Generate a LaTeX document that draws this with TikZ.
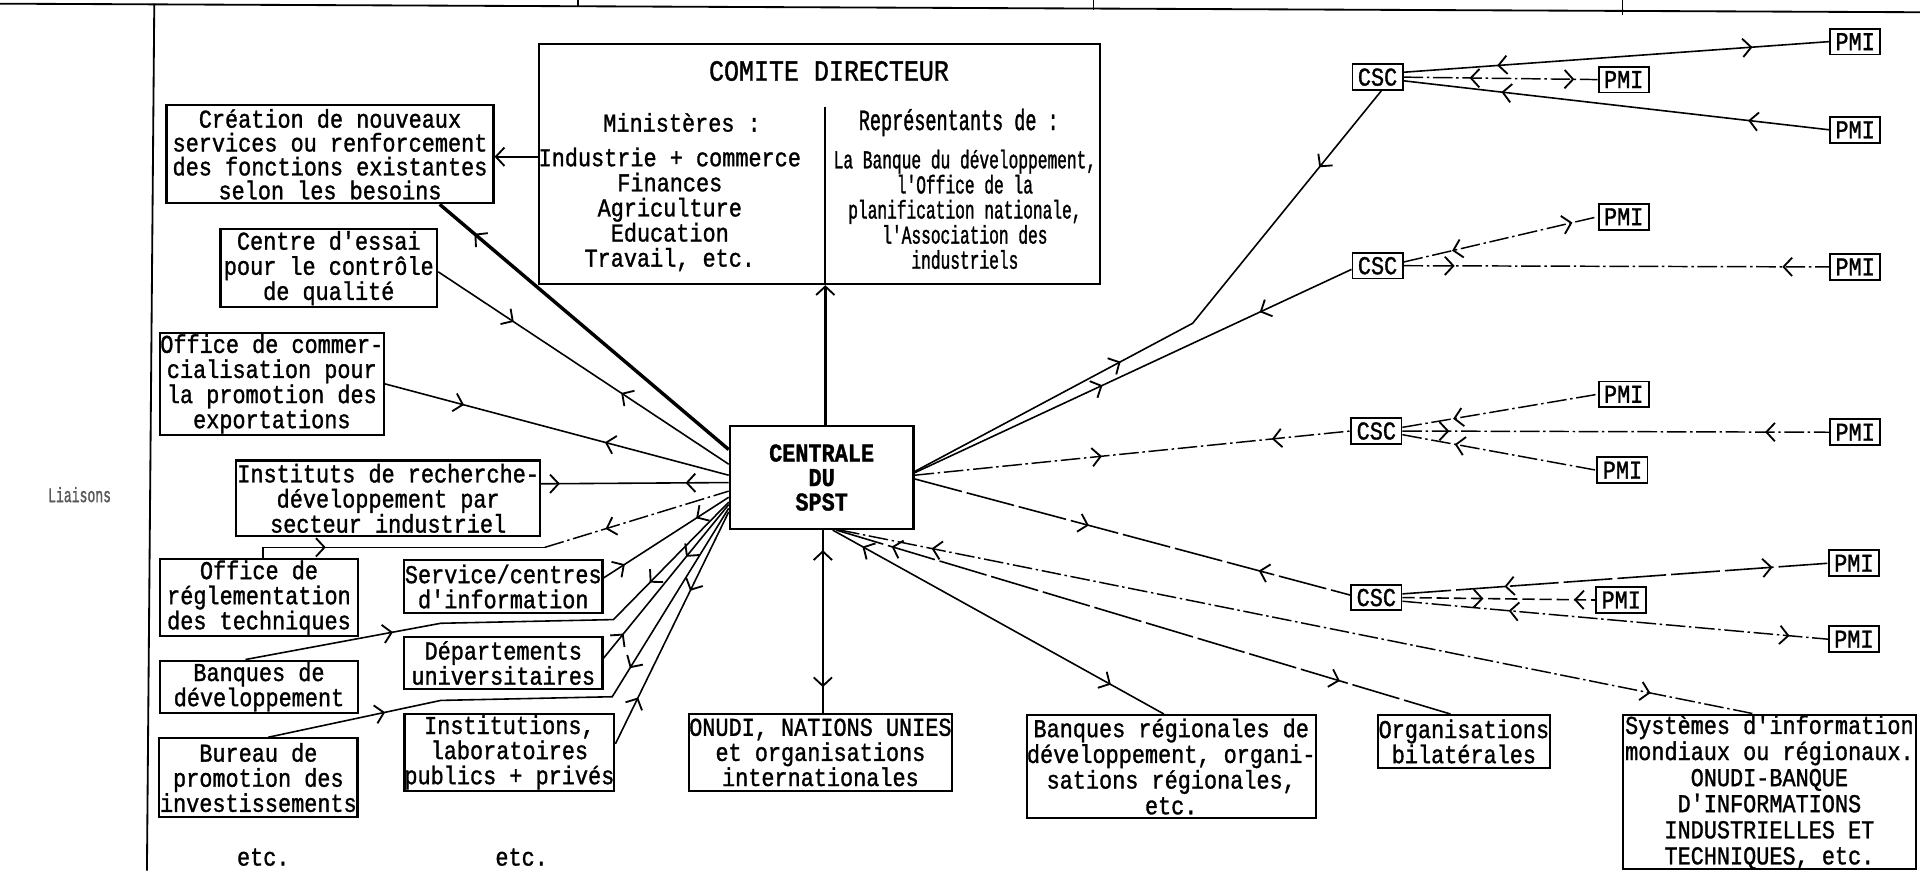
\documentclass[tikz,border=0pt]{standalone}
\usepackage{fontspec}
\newfontfamily\tw{Liberation Mono}[FakeStretch=0.85,FakeBold=1.2]
\newfontfamily\twn{Liberation Mono}[FakeStretch=0.63,FakeBold=1.2]
\usetikzlibrary{arrows.meta,decorations.markings,calc}
\newcommand\mainfs{\tw\fontsize{21pt}{20.5pt}\selectfont}
\newcommand\tightfs{\tw\fontsize{21pt}{19.5pt}\selectfont}
\newcommand\narrowfs{\twn\fontsize{21pt}{20.5pt}\selectfont}
\tikzset{
  >={Straight Barb[length=7pt,width=15pt,line width=1.5pt]},
  bx/.style={draw,line width=1.8pt,inner sep=0pt,align=center,font=\mainfs},
  tag/.style={draw,line width=1.5pt,inner sep=0pt,minimum width=41pt,minimum height=21pt,font=\mainfs},
  txt/.style={inner sep=0pt,align=center,font=\mainfs},
  ln/.style={line width=1.3pt},
  vln/.style={line width=2.2pt},
  ld/.style={line width=1.3pt,dash pattern=on 40pt off 4pt},
  dsh/.style={line width=1.3pt,dash pattern=on 10pt off 4pt},
  dd/.style={line width=1.2pt,dash pattern=on 16pt off 3pt on 2pt off 3pt},
  thk/.style={line width=2.8pt},
  fwd/.style={postaction={decorate,decoration={markings,mark=at position #1 with {\arrow{>}}}}},
  bwd/.style={postaction={decorate,decoration={markings,mark=at position #1 with {\arrowreversed{>}}}}},
}
\begin{document}
\begin{tikzpicture}[x=1pt,y=-1pt]
\useasboundingbox (0,0) rectangle (1568,711);

% frame lines of the page
\coordinate (t0) at (0,3);
\coordinate (t1) at (1568,10);
\draw[line width=1.5pt] (t0) -- (t1);
\coordinate (v0) at (126,3);
\coordinate (v1) at (120,711);
\draw[line width=1.5pt] (v0) -- (v1);
\coordinate (ta) at (472,0); \coordinate (tb) at (472,6);
\draw[line width=1.3pt] (ta) -- (tb);
\coordinate (tc) at (893,0); \coordinate (td) at (893,8);
\draw[line width=1.3pt] (tc) -- (td);
\coordinate (te) at (1325,0); \coordinate (tf) at (1325,12);
\draw[line width=1.3pt] (te) -- (tf);

\node[txt,font={\twn\fontsize{17pt}{20pt}\selectfont},text=black!65] (liaisons) at (65,404) {Liaisons};

% comite directeur
\node[bx,minimum width=458pt,minimum height=196pt] (comite) at (669,134) {};
\node[txt,font={\tw\fontsize{24pt}{24pt}\selectfont}] (titre) at (677,58) {COMITE DIRECTEUR};
\node[txt] (minis) at (557,100) {Ministères :};
\node[txt] (minl) at (547,171) {Industrie + commerce\\Finances\\Agriculture\\Education\\Travail, etc.};
\node[txt,font={\twn\fontsize{24pt}{24pt}\selectfont}] (repr) at (783,100) {Représentants de :};
\node[txt,font=\narrowfs] (repl) at (788,171) {La Banque du développement,\\l'Office de la\\planification nationale,\\l'Association des\\industriels};
\coordinate (dv) at (674,87);
\draw[line width=1.8pt] (dv) -- (dv |- comite.south);

% left boxes
\node[bx,minimum width=267pt,minimum height=80pt,font=\tightfs] (creation) at (269.5,126) {Création de nouveaux\\services ou renforcement\\des fonctions existantes\\selon les besoins};
\node[bx,minimum width=177pt,minimum height=64pt] (essai) at (268.5,219) {Centre d'essai\\pour le contrôle\\de qualité};
\node[bx,minimum width=183pt,minimum height=83pt] (commerc) at (222,313.5) {Office de commer-\\cialisation pour\\la promotion des\\exportations};
\node[bx,minimum width=248pt,minimum height=62pt] (instituts) at (317,407) {Instituts de recherche-\\développement par\\secteur industriel};
\node[bx,minimum width=162pt,minimum height=63pt] (reglem) at (211.5,488) {Office de\\réglementation\\des techniques};
\node[bx,minimum width=162pt,minimum height=43pt] (service) at (411,479) {Service/centres\\d'information};
\node[bx,minimum width=162pt,minimum height=43pt] (banques) at (211.5,561) {Banques de\\développement};
\node[bx,minimum width=162pt,minimum height=42pt] (depart) at (411,541.5) {Départements\\universitaires};
\node[bx,minimum width=162pt,minimum height=64pt] (bureau) at (211,635) {Bureau de\\promotion des\\investissements};
\node[bx,minimum width=170pt,minimum height=63pt] (instit2) at (416,614.5) {Institutions,\\laboratoires\\publics + privés};
\node[txt] (etc1) at (215,700) {etc.};
\node[txt] (etc2) at (426,700) {etc.};

% centre
\node[bx,minimum width=150pt,minimum height=84pt,font={\tw\bfseries\fontsize{21pt}{20pt}\selectfont}] (centrale) at (671,390) {CENTRALE\\DU\\SPST};

% bottom boxes
\node[bx,minimum width=215pt,minimum height=63pt] (onudi) at (670,614.5) {ONUDI, NATIONS UNIES\\et organisations\\internationales};
\node[bx,minimum width=236pt,minimum height=84pt,font={\tw\fontsize{21pt}{21pt}\selectfont}] (bregion) at (956.5,626) {Banques régionales de\\développement, organi-\\sations régionales,\\etc.};
\node[bx,minimum width=140pt,minimum height=43pt] (bilat) at (1195.5,605.5) {Organisations\\bilatérales};
\node[bx,minimum width=239pt,minimum height=125pt,font={\tw\fontsize{21pt}{21.3pt}\selectfont}] (systemes) at (1445,647) {Systèmes d'information\\mondiaux ou régionaux.\\ONUDI-BANQUE\\D'INFORMATIONS\\INDUSTRIELLES ET\\TECHNIQUES, etc.};

% CSC and PMI
\node[tag] (csc1) at (1125,63) {CSC};
\node[tag] (csc2) at (1125,217) {CSC};
\node[tag] (csc3) at (1124,352) {CSC};
\node[tag] (csc4) at (1124,488) {CSC};
\node[tag] (pmi1a) at (1515,34) {PMI};
\node[tag] (pmi1b) at (1326,65) {PMI};
\node[tag] (pmi1c) at (1515,106) {PMI};
\node[tag] (pmi2a) at (1326,177) {PMI};
\node[tag] (pmi2b) at (1515,218) {PMI};
\node[tag] (pmi3a) at (1326,322) {PMI};
\node[tag] (pmi3b) at (1515,353) {PMI};
\node[tag] (pmi3c) at (1325,384) {PMI};
\node[tag] (pmi4a) at (1514,460) {PMI};
\node[tag] (pmi4b) at (1324,490) {PMI};
\node[tag] (pmi4c) at (1514,522) {PMI};

% comite links
\draw[ln,->] ($(comite.west)+(0,-6)$) -- ($(creation.east)+(0,2)$);
\coordinate (ct) at ($(centrale.north)+(3,0)$);
\draw[vln,->] (ct) -- (ct |- comite.south);

% left fan
\draw[thk,fwd=0.88] ($(centrale.north west)+(0,20)$) -- ($(creation.south west)+(224,0)$);
\draw[ln,fwd=0.26,bwd=0.63] ($(essai.east)+(0,3)$) -- ($(centrale.north west)+(0,32)$);
\draw[ln,fwd=0.23,bwd=0.64] (commerc.east) -- ($(centrale.north west)+(0,41)$);
\draw[ln,fwd=0.1,bwd=0.77] ($(instituts.north east)+(0,20)$) -- ($(centrale.north west)+(0,47)$);
\coordinate (r1) at (215,447);
\coordinate (r2) at (445,447);
\draw[ln,fwd=0.25] ($(reglem.north)+(3.5,0)$) -- (r1) -- (r2);
\draw[dd,bwd=0.33] (r2) -- ($(centrale.north west)+(0,54)$);
\draw[ln,fwd=0.17,bwd=0.74] ($(service.east)+(0,-7)$) -- ($(centrale.north west)+(0,59)$);
\coordinate (b1) at (360,509);
\coordinate (b2) at (501,506);
\draw[ln,fwd=0.28,bwd=0.79] ($(banques.north)+(-11,0)$) -- (b1) -- (b2) -- ($(centrale.north west)+(0,63)$);
\draw[ln,fwd=0.16,bwd=0.66] ($(depart.east)+(0,-4)$) -- ($(centrale.north west)+(0,65)$);
\coordinate (u1) at (360,572);
\coordinate (u2) at (500,569);
\draw[ln,fwd=0.21,bwd=0.67] ($(bureau.north)+(8,0)$) -- (u1) -- (u2) -- ($(centrale.north west)+(0,68)$);
\draw[ln,fwd=0.2,bwd=0.66] ($(instit2.east)+(0,-7)$) -- ($(centrale.north west)+(0,71)$);

% right fan
\coordinate (k1) at (974,264);
\draw[ln,fwd=0.38,bwd=0.84] ($(centrale.north east)+(0,38)$) -- (k1) -- ($(csc1.south)+(3,0)$);
\draw[ln,fwd=0.43,bwd=0.79] ($(centrale.north east)+(0,39)$) -- ($(csc2.west)+(0,3)$);
\draw[dd,fwd=0.43,bwd=0.82] ($(centrale.north east)+(0,41)$) -- (csc3.west);
\draw[ld,fwd=0.40,bwd=0.79] ($(centrale.north east)+(0,44)$) -- ($(csc4.west)+(0,-2)$);

% bottom fan
\draw[vln,bwd=0.11,fwd=0.86] ($(centrale.south)+(1,0)$) -- ($(onudi.north)+(2,0)$);
\draw[ln,bwd=0.09,fwd=0.84] ($(centrale.south)+(9,0)$) -- ($(bregion.north)+(-6,0)$);
\draw[ld,bwd=0.09,fwd=0.82] ($(centrale.south)+(12,0)$) -- ($(bilat.north)+(-11,0)$);
\draw[dd,bwd=0.10,fwd=0.885] ($(centrale.south)+(15,0)$) -- ($(systemes.north)+(-11,0)$);

% CSC - PMI
\draw[ln,bwd=0.22,fwd=0.82] ($(csc1.east)+(0,-4)$) -- (pmi1a.west);
\draw[dd,bwd=0.34,fwd=0.88] (csc1.east) -- (pmi1b.west);
\draw[ln,bwd=0.23,bwd=0.81] ($(csc1.east)+(0,3)$) -- (pmi1c.west);
\draw[dd,bwd=0.25,fwd=0.87] ($(csc2.east)+(0,-3)$) -- (pmi2a.west);
\draw[dd,fwd=0.12,bwd=0.89] (csc2.east) -- (pmi2b.west);
\draw[dd,bwd=0.26] ($(csc3.east)+(0,-3)$) -- (pmi3a.west);
\draw[dd,fwd=0.11,bwd=0.85] (csc3.east) -- (pmi3b.west);
\draw[dd,bwd=0.27] ($(csc3.east)+(0,3)$) -- (pmi3c.west);
\draw[ld,bwd=0.24,fwd=0.87] ($(csc4.east)+(0,-3)$) -- (pmi4a.west);
\draw[dsh,fwd=0.42,bwd=0.89] (csc4.east) -- (pmi4b.west);
\draw[dd,bwd=0.25,fwd=0.91] ($(csc4.east)+(0,3)$) -- (pmi4c.west);
\end{tikzpicture}
\end{document}
